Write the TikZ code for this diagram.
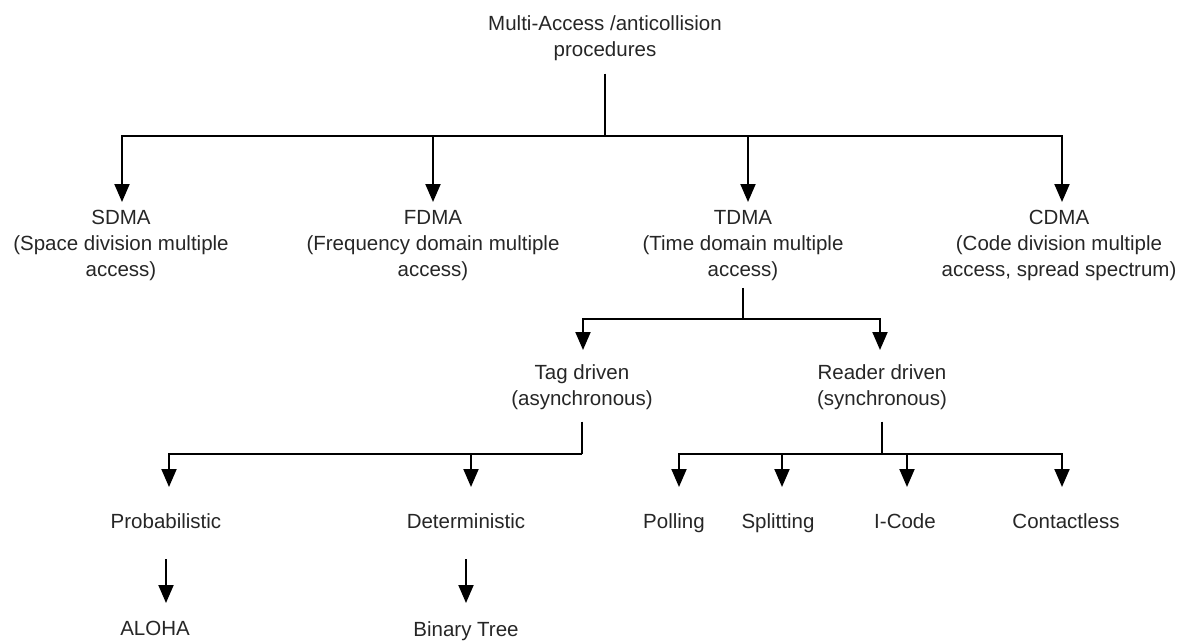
\documentclass[tikz,border=0pt]{standalone}
\usepackage{fontspec}
\setmainfont{Liberation Sans}
\usetikzlibrary{arrows.meta}
\definecolor{labelgray}{HTML}{262626}
\begin{document}
\begin{tikzpicture}[x=1pt,y=-1pt,
  lbl/.style={font={\fontsize{20.5}{26}\selectfont}, align=center,
              inner sep=0pt, anchor=north, text=labelgray},
  link/.style={line width=2pt, draw=black},
  arr/.style={link, -{Triangle[width=15pt,length=18pt]}}]

\useasboundingbox (0,0) rectangle (1180,642);

% tree labels
\node[lbl] (root)    at (605,15)  {Multi-Access /anticollision\\procedures};
\node[lbl] (sdma)    at (121,210) {SDMA\\(Space division multiple\\access)};
\node[lbl] (fdma)    at (433,210) {FDMA\\(Frequency domain multiple\\access)};
\node[lbl] (tdma)    at (743,210) {TDMA\\(Time domain multiple\\access)};
\node[lbl] (cdma)    at (1059,210) {CDMA\\(Code division multiple\\access, spread spectrum)};
\node[lbl] (tag)     at (582,364) {Tag driven\\(asynchronous)};
\node[lbl] (reader)  at (882,364) {Reader driven\\(synchronous)};
\node[lbl] (prob)    at (166,513) {Probabilistic};
\node[lbl] (det)     at (466,513) {Deterministic};
\node[lbl] (poll)    at (674,513) {Polling};
\node[lbl] (split)   at (778,513) {Splitting};
\node[lbl] (icode)   at (905,513) {I-Code};
\node[lbl] (contact) at (1066,513) {Contactless};
\node[lbl] (aloha)   at (155,621) {ALOHA};
\node[lbl] (binary)  at (466,621) {Binary Tree};

% branching points
\coordinate (j1) at (605,136);
\coordinate (j2) at (743,319);
\coordinate (j3) at (582,454);
\coordinate (j4) at (882,454);

% multi-access schemes
\draw[link] ([yshift=-13pt]root.south) -- (j1);
\draw[arr] (j1) -| ([xshift=1pt,yshift=8pt]sdma.north);
\draw[arr] (j1) -| ([yshift=8pt]fdma.north);
\draw[arr] (j1) -| ([xshift=5pt,yshift=8pt]tdma.north);
\draw[arr] (j1) -| ([xshift=3pt,yshift=8pt]cdma.north);

% TDMA variants
\draw[link] ([yshift=-7pt]tdma.south) -- (j2);
\draw[arr] (j2) -| ([xshift=1pt,yshift=14pt]tag.north);
\draw[arr] (j2) -| ([xshift=-2pt,yshift=14pt]reader.north);

% tag driven procedures
\draw[link] ([yshift=-12pt]tag.south) -- (j3);
\draw[arr] (j3) -| ([xshift=3pt,yshift=26pt]prob.north);
\draw[arr] (j3) -| ([xshift=5pt,yshift=26pt]det.north);

% reader driven procedures
\draw[link] ([yshift=-12pt]reader.south) -- (j4);
\draw[arr] (j4) -| ([xshift=5pt,yshift=26pt]poll.north);
\draw[arr] (j4) -| ([xshift=4pt,yshift=26pt]split.north);
\draw[arr] (j4) -| ([xshift=2pt,yshift=26pt]icode.north);
\draw[arr] (j4) -| ([xshift=-4pt,yshift=26pt]contact.north);

% examples
\draw[arr] ([yshift=-31pt]prob.south) -- ([xshift=11pt,yshift=18pt]aloha.north);
\draw[arr] ([yshift=-31pt]det.south) -- ([yshift=18pt]binary.north);

\end{tikzpicture}
\end{document}
